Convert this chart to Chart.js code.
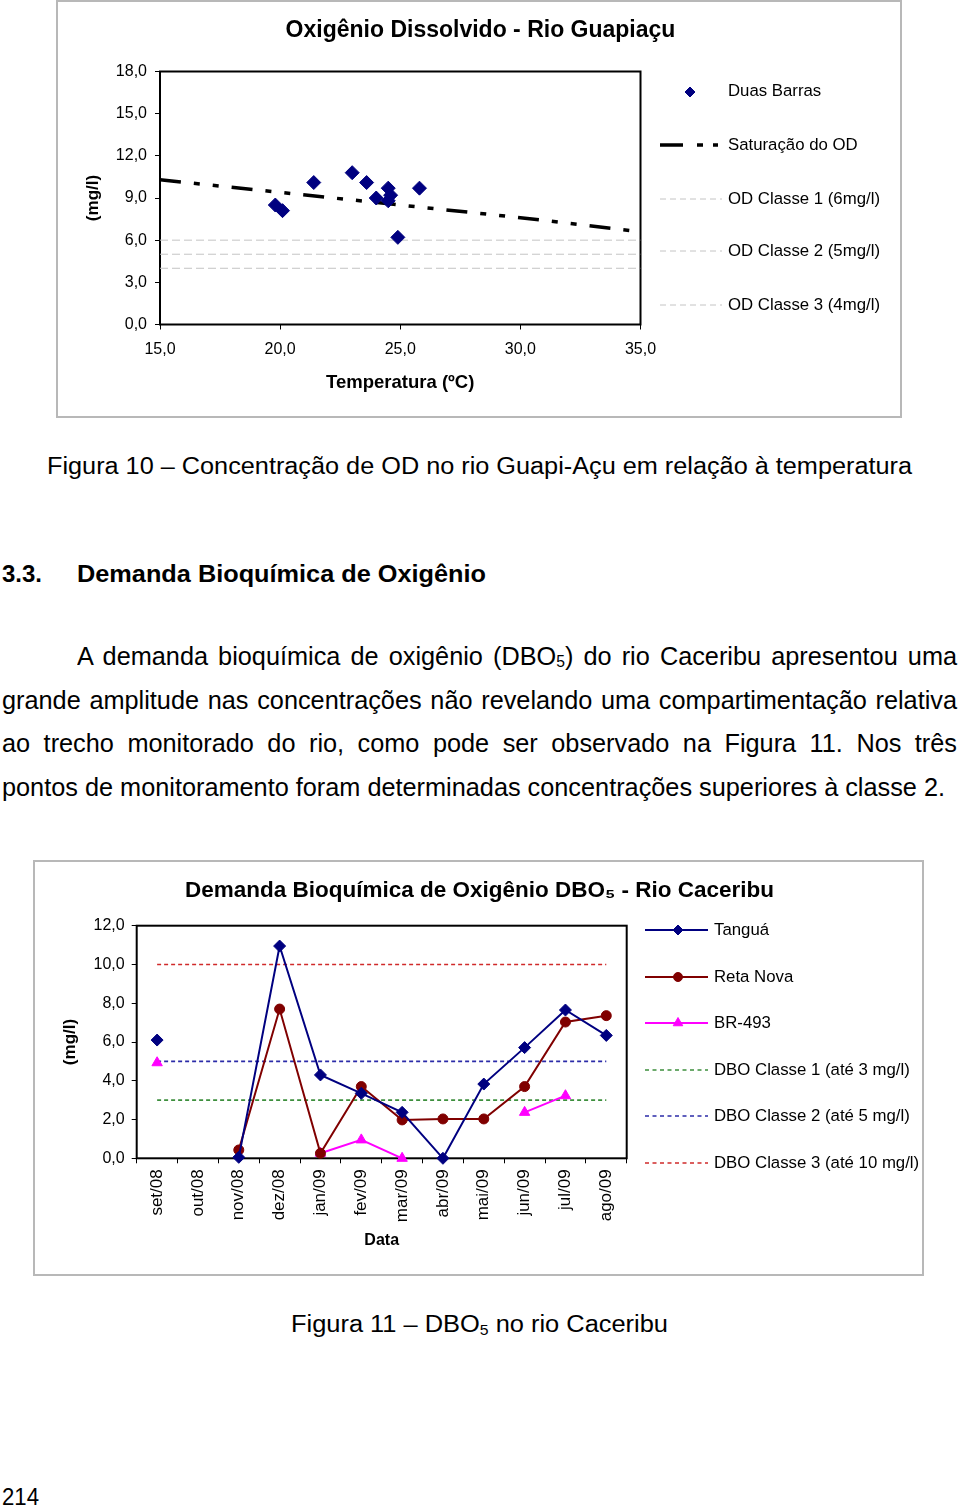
<!DOCTYPE html>
<html><head><meta charset="utf-8">
<script src="https://cdn.jsdelivr.net/npm/chart.js@4.4.0/dist/chart.umd.min.js"></script>
<style>
html,body{margin:0;padding:0;background:#fff;}
body{width:960px;height:1511px;position:relative;overflow:hidden;font-family:'Liberation Sans',Arial,Helvetica,sans-serif;color:#000;}
.box{position:absolute;border:2px solid #b8b8b8;box-sizing:border-box;background:#fff;}
.cv{position:absolute;}
.t{position:absolute;white-space:nowrap;line-height:1;transform-origin:0 0;}
.b{font-weight:bold;}
sub{font-size:0.62em;vertical-align:-0.18em;line-height:0;}
</style></head><body>

<div class="box" style="left:56px;top:0px;width:846px;height:418px"></div>
<div class="cv" style="left:57px;top:1px;width:843px;height:415px"><canvas id="c1" width="843" height="415"></canvas></div>

<div class="t" data-m="s" data-w="865" style="left:47px;top:455px;font-size:23px">Figura 10 – Concentração de OD no rio Guapi-Açu em relação à temperatura</div>

<div class="t b" data-m="s" data-w="40" style="left:2px;top:562px;font-size:24px">3.3.</div>
<div class="t b" data-m="s" data-w="409" style="left:77px;top:562px;font-size:24px">Demanda Bioquímica de Oxigênio</div>

<div class="t" data-m="j" data-sy="1.08" data-w="880" style="left:77px;top:643px;font-size:24px">A demanda bioquímica de oxigênio (DBO<sub>5</sub>) do rio Caceribu apresentou uma</div>
<div class="t" data-m="j" data-sy="1.08" data-w="955" style="left:2px;top:687px;font-size:24px">grande amplitude nas concentrações não revelando uma compartimentação relativa</div>
<div class="t" data-m="j" data-sy="1.08" data-w="955" style="left:2px;top:730px;font-size:24px">ao trecho monitorado do rio, como pode ser observado na Figura 11. Nos três</div>
<div class="t" id="lastline" data-m="s" data-sy="1.08" data-w="943" style="left:2px;top:774px;font-size:24px">pontos de monitoramento foram determinadas concentrações superiores à classe 2.</div>

<div class="box" style="left:33px;top:860px;width:891px;height:416px"></div>
<div class="cv" style="left:35px;top:862px;width:887px;height:412px"><canvas id="c2" width="887" height="412"></canvas></div>

<div class="t" data-m="s" data-w="377" style="left:291px;top:1313px;font-size:23px">Figura 11 – DBO<sub>5</sub> no rio Caceribu</div>
<div class="t" data-m="s" data-w="37" style="left:2px;top:1486px;font-size:23px">214</div>

<script>
// ---------- DATA: Figura 10 ----------
const odTemps   = [19.8, 20.1, 21.4, 23.0, 23.6, 24.0, 24.5, 24.6, 24.5, 24.9, 25.8];
const odValues  = [8.5, 8.1, 10.1, 10.8, 10.1, 9.0, 9.7, 9.2, 8.8, 6.2, 9.7];
const satTemps  = [15, 20, 25, 30, 35];
const satValues = [10.3, 9.4, 8.5, 7.6, 6.6];
const classTemps = [15, 35];
const odClasse1 = [6, 6];
const odClasse2 = [5, 5];
const odClasse3 = [4, 4];
const odLabels = ['Duas Barras', 'Saturação do OD', 'OD Classe 1 (6mg/l)', 'OD Classe 2 (5mg/l)', 'OD Classe 3 (4mg/l)'];

// ---------- DATA: Figura 11 ----------
const months   = ['set/08','out/08','nov/08','dez/08','jan/09','fev/09','mar/09','abr/09','mai/09','jun/09','jul/09','ago/09'];
const tangua   = [6.1, null, 0.05, 10.95, 4.3, 3.35, 2.37, 0.0, 3.83, 5.71, 7.65, 6.34];
const retaNova = [null, null, 0.43, 7.7, 0.26, 3.7, 1.98, 2.03, 2.03, 3.7, 7.03, 7.36];
const br493    = [4.93, null, null, null, 0.26, 0.95, 0.0, null, null, 2.37, 3.23, null];
const dboClasse1 = [3, 3, 3, 3, 3, 3, 3, 3, 3, 3, 3, 3];
const dboClasse2 = [5, 5, 5, 5, 5, 5, 5, 5, 5, 5, 5, 5];
const dboClasse3 = [10, 10, 10, 10, 10, 10, 10, 10, 10, 10, 10, 10];
const dboLabels = ['Tanguá', 'Reta Nova', 'BR-493', 'DBO Classe 1 (até 3 mg/l)', 'DBO Classe 2 (até 5 mg/l)', 'DBO Classe 3 (até 10 mg/l)'];

// ---------- text fitting ----------
(function(){
  const els = Array.from(document.querySelectorAll('.t'));
  const last = document.getElementById('lastline');
  const w4 = last.getBoundingClientRect().width;
  const sPara = (+last.dataset.w) / w4;
  els.forEach(el => {
    const target = +el.dataset.w;
    const sy = el.dataset.sy ? +el.dataset.sy : 1;
    const w = el.getBoundingClientRect().width;
    if (el.dataset.m === 'j') {
      const spaces = (el.textContent.match(/ /g) || []).length;
      el.style.wordSpacing = ((target / sPara - w) / spaces) + 'px';
      el.style.transform = 'scale(' + sPara + ',' + sy + ')';
    } else {
      el.style.transform = 'scale(' + (target / w) + ',' + sy + ')';
    }
  });
})();

// ---------- charts ----------
Chart.defaults.font.family = "'Liberation Sans', Arial, Helvetica, sans-serif";
Chart.defaults.color = '#000';
const fmt = v => Number(v).toFixed(1).replace('.', ',');

const framePlugin = {
  id: 'frame',
  beforeDatasetsDraw(chart) {
    const a = chart.chartArea, ctx = chart.ctx;
    ctx.save();
    ctx.strokeStyle = '#000';
    ctx.lineWidth = 2;
    ctx.strokeRect(a.left, a.top, a.right - a.left, a.bottom - a.top);
    ctx.restore();
  }
};

function legendPlugin(id, items, fontSize) {
  return {
    id: id,
    afterDraw(chart) {
      const ctx = chart.ctx;
      ctx.save();
      items.forEach(it => {
        const ds = chart.data.datasets[it.ds];
        if (it.x1 !== undefined) {
          ctx.save();
          ctx.beginPath();
          ctx.strokeStyle = ds.borderColor;
          ctx.lineWidth = it.lw || ds.borderWidth;
          ctx.setLineDash(it.dash || []);
          ctx.moveTo(it.x0, it.y);
          ctx.lineTo(it.x1, it.y);
          ctx.stroke();
          ctx.restore();
        }
        if (it.mx !== undefined) {
          ctx.save();
          ctx.fillStyle = ds.pointBackgroundColor || ds.backgroundColor;
          ctx.strokeStyle = ds.pointBorderColor || ds.borderColor;
          Chart.helpers.drawPoint(ctx, {pointStyle: ds.pointStyle, radius: it.mr, borderWidth: 1, rotation: 0}, it.mx, it.y);
          ctx.restore();
        }
        ctx.fillStyle = '#000';
        ctx.font = fontSize + "px 'Liberation Sans', Arial, sans-serif";
        ctx.textBaseline = 'middle';
        ctx.textAlign = 'left';
        ctx.fillText(ds.label, it.tx, it.ty);
      });
      ctx.restore();
    }
  };
}

// Chart 1
const pts = (xs, ys) => xs.map((x, i) => ({x: x, y: ys[i]}));
new Chart(document.getElementById('c1'), {
  type: 'scatter',
  data: {
    datasets: [
      {label: odLabels[0], data: pts(odTemps, odValues), pointStyle: 'rectRot', pointRadius: 7,
       backgroundColor: '#000080', borderColor: '#000080', pointBorderWidth: 1, showLine: false, clip: false},
      {label: odLabels[1], data: pts(satTemps, satValues), showLine: true, pointRadius: 0,
       borderColor: '#000', backgroundColor: '#000', borderWidth: 3.5, borderDash: [21, 13, 6, 13, 6, 13]},
      {label: odLabels[2], data: pts(classTemps, odClasse1), showLine: true, pointRadius: 0,
       borderColor: '#c4c4c4', borderWidth: 1, borderDash: [8, 4]},
      {label: odLabels[3], data: pts(classTemps, odClasse2), showLine: true, pointRadius: 0,
       borderColor: '#c4c4c4', borderWidth: 1, borderDash: [8, 4]},
      {label: odLabels[4], data: pts(classTemps, odClasse3), showLine: true, pointRadius: 0,
       borderColor: '#c4c4c4', borderWidth: 1, borderDash: [8, 4]}
    ]
  },
  options: {
    responsive: false, animation: false,
    layout: {padding: {left: 4, right: 0, top: 0, bottom: 0}},
    plugins: {
      legend: {display: false}, tooltip: {enabled: false},
      title: {display: true, text: 'Oxigênio Dissolvido - Rio Guapiaçu', color: '#000',
              font: {size: 23, weight: 'bold'}, padding: {top: 16, bottom: 26.9}}
    },
    scales: {
      x: {type: 'linear', position: 'bottom', min: 15, max: 35,
          ticks: {stepSize: 5, callback: fmt, font: {size: 16}, padding: 10, maxRotation: 0, autoSkip: false, color: '#000'},
          grid: {drawOnChartArea: false, drawTicks: true, tickLength: 5, color: '#000'},
          border: {display: false},
          title: {display: true, text: 'Temperatura (ºC)', font: {size: 18.5, weight: 'bold'}, color: '#000', padding: {top: 0, bottom: 22}},
          afterFit: s => { s.height = 91.5; }},
      y: {type: 'linear', position: 'left', min: 0, max: 18,
          ticks: {stepSize: 3, callback: fmt, font: {size: 16}, padding: 8, color: '#000'},
          grid: {drawOnChartArea: false, drawTicks: true, tickLength: 5, color: '#000'},
          border: {display: false},
          title: {display: true, text: '(mg/l)', font: {size: 17, weight: 'bold'}, color: '#000', padding: {top: 21.8, bottom: 0}},
          afterFit: s => { s.width = 99; }},
      yR: {type: 'linear', position: 'right', display: true,
           ticks: {display: false}, grid: {display: false}, border: {display: false},
           afterFit: s => { s.width = 259.5; }}
    }
  },
  plugins: [framePlugin, legendPlugin('leg1', [
    {ds: 0, mx: 633, mr: 5, y: 91, tx: 671, ty: 90},
    {ds: 1, x0: 603, x1: 661, y: 144, lw: 3.5, dash: [23, 14, 6, 10, 6, 40], tx: 671, ty: 144},
    {ds: 2, x0: 603, x1: 665, y: 198, lw: 1, dash: [6, 4], tx: 671, ty: 198},
    {ds: 3, x0: 603, x1: 665, y: 250, lw: 1, dash: [6, 4], tx: 671, ty: 250},
    {ds: 4, x0: 603, x1: 665, y: 304, lw: 1, dash: [6, 4], tx: 671, ty: 304}
  ], 16.8)]
});

// Chart 2
new Chart(document.getElementById('c2'), {
  type: 'line',
  data: {
    labels: months,
    datasets: [
      {label: dboLabels[0], data: tangua, borderColor: '#000080', backgroundColor: '#000080',
       borderWidth: 2, pointStyle: 'rectRot', pointRadius: 6, pointBorderWidth: 1, spanGaps: false, clip: false, order: 0},
      {label: dboLabels[1], data: retaNova, borderColor: '#800000', backgroundColor: '#800000',
       borderWidth: 2, pointStyle: 'circle', pointRadius: 5, pointBorderWidth: 1, spanGaps: false, clip: false, order: 0},
      {label: dboLabels[2], data: br493, borderColor: '#ff00ff', backgroundColor: '#ff00ff',
       borderWidth: 2, pointStyle: 'triangle', pointRadius: 6, pointBorderWidth: 1, spanGaps: false, clip: false, order: 0},
      {label: dboLabels[3], data: dboClasse1, borderColor: '#3d8f3d', borderWidth: 1.6, borderDash: [4, 3], pointRadius: 0, order: 1},
      {label: dboLabels[4], data: dboClasse2, borderColor: '#2b2ba8', borderWidth: 1.6, borderDash: [4, 3], pointRadius: 0, order: 1},
      {label: dboLabels[5], data: dboClasse3, borderColor: '#d02a2a', borderWidth: 1.6, borderDash: [4, 3], pointRadius: 0, order: 1}
    ]
  },
  options: {
    responsive: false, animation: false,
    layout: {padding: {left: 2, right: 0, top: 0, bottom: 0}},
    plugins: {
      legend: {display: false}, tooltip: {enabled: false},
      title: {display: true, text: 'Demanda Bioquímica de Oxigênio DBO₅ - Rio Caceribu', color: '#000',
              font: {size: 22.5, weight: 'bold'}, padding: {top: 15, bottom: 21.7}}
    },
    scales: {
      x: {type: 'category', offset: true,
          ticks: {minRotation: 90, maxRotation: 90, font: {size: 17}, padding: 6, autoSkip: false, color: '#000'},
          grid: {offset: true, drawOnChartArea: false, drawTicks: true, tickLength: 5, color: '#000'},
          border: {display: false},
          title: {display: true, text: 'Data', font: {size: 16, weight: 'bold'}, color: '#000', padding: {top: 0, bottom: 23.4}},
          afterFit: s => { s.height = 115.7; }},
      y: {type: 'linear', position: 'left', min: 0, max: 12,
          ticks: {stepSize: 2, callback: fmt, font: {size: 16}, padding: 7, color: '#000'},
          grid: {drawOnChartArea: false, drawTicks: true, tickLength: 5, color: '#000'},
          border: {display: false},
          title: {display: true, text: '(mg/l)', font: {size: 17, weight: 'bold'}, color: '#000', padding: {top: 22.8, bottom: 0}},
          afterFit: s => { s.width = 99.7; }},
      yR: {type: 'linear', position: 'right', display: true,
           ticks: {display: false}, grid: {display: false}, border: {display: false},
           afterFit: s => { s.width = 295.3; }}
    }
  },
  plugins: [framePlugin, legendPlugin('leg2', [
    {ds: 0, x0: 610, x1: 673, y: 68, mx: 643, mr: 5, tx: 679, ty: 68},
    {ds: 1, x0: 610, x1: 673, y: 115, mx: 643, mr: 4.5, tx: 679, ty: 115},
    {ds: 2, x0: 610, x1: 673, y: 161, mx: 643, mr: 5.5, tx: 679, ty: 161},
    {ds: 3, x0: 610, x1: 673, y: 208, lw: 1.4, dash: [4, 3.5], tx: 679, ty: 208},
    {ds: 4, x0: 610, x1: 673, y: 254, lw: 1.4, dash: [4, 3.5], tx: 679, ty: 254},
    {ds: 5, x0: 610, x1: 673, y: 301, lw: 1.4, dash: [4, 3.5], tx: 679, ty: 301}
  ], 16.8)]
});
</script>
</body></html>
